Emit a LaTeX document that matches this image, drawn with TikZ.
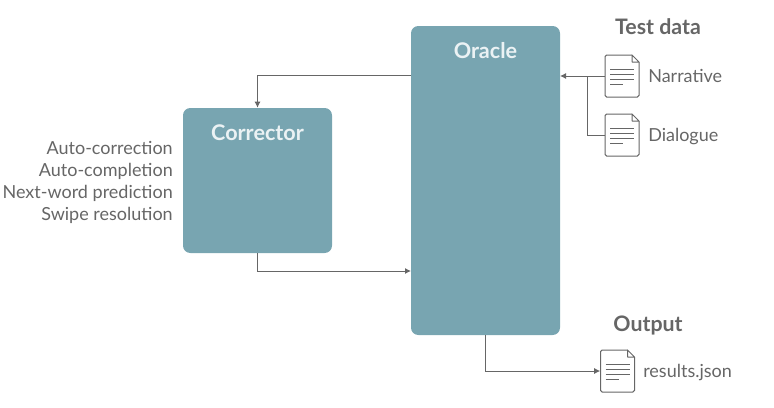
\documentclass[tikz,border=0pt]{standalone}
\usepackage{fontspec}
\setmainfont{Lato}
\usetikzlibrary{arrows.meta}
\definecolor{boxteal}{RGB}{120,165,177}
\definecolor{inkgrey}{RGB}{102,102,102}
\definecolor{titlewhite}{RGB}{235,242,244}
\tikzset{
  block/.style={fill=boxteal,rounded corners=5.5pt,inner sep=0pt},
  blocktitle/.style={text=titlewhite,font=\fontsize{16.2pt}{18pt}\selectfont\bfseries,inner sep=0pt,text height=14pt,text depth=3pt},
  heading/.style={text=inkgrey,font=\fontsize{16pt}{18pt}\selectfont\bfseries,inner sep=0pt,text height=14pt,text depth=3pt},
  caption/.style={text=inkgrey,font=\fontsize{13.5pt}{15pt}\selectfont,inner sep=0pt,text height=12.5pt,text depth=2.5pt},
  docnode/.style={minimum width=25.5pt,minimum height=31.5pt,inner sep=0pt},
  flow/.style={draw=inkgrey,line width=0.75pt,-{Latex[length=4.5pt,width=4.5pt]}},
  plain/.style={draw=inkgrey,line width=0.75pt},
}
% page icon drawn round a named docnode
\newcommand{\docicon}[1]{
  \begin{scope}[shift={(#1.center)},draw=inkgrey,line width=0.75pt]
    \draw [rounded corners=1.2pt] (10,-21) -- (-17,-21) -- (-17,21) -- (17,21) -- (17,-14);
    \draw [line join=round] (10,-21) -- (17,-14) -- (10,-14) -- cycle;
    \draw (-12,-6.7) -- (12,-6.7);
    \draw (-12,-1.7) -- (12,-1.7);
    \draw (-12,3.3) -- (12,3.3);
    \draw (-12,8.3) -- (1,8.3);
  \end{scope}
}
\begin{document}
\begin{tikzpicture}[x=0.75pt,y=0.75pt,yscale=-1,xscale=1]
\useasboundingbox (0,0) rectangle (774,407);

% Blocks
\node [block,minimum width=111.75pt,minimum height=231.75pt] (oracle) at (485.5,180.5) {};
\node [block,minimum width=111.75pt,minimum height=108.75pt] (corrector) at (257.5,180.5) {};
\node [blocktitle] (oracletitle) at (485.5,51) {Oracle};
\node [blocktitle] (correctortitle) at (257.5,133) {Corrector};

% Documents
\node [docnode] (narrative) at (622,76) {};
\node [docnode] (dialogue) at (622,135) {};
\node [docnode] (results) at (617.5,371) {};
\docicon{narrative}
\docicon{dialogue}
\docicon{results}

% Text nodes
\node [heading] (testdata) at (658,27) {Test data};
\node [heading] (output) at (648,324) {Output};
\node [caption,anchor=west] (narrativelabel) at (648,76) {Narrative};
\node [caption,anchor=west] (dialoguelabel) at (648,135) {Dialogue};
\node [caption,anchor=west] (resultslabel) at (643,371) {results.json};
\node [caption,anchor=east] (autocorrection) at (173,148) {Auto-correction};
\node [caption,anchor=east] (autocompletion) at (173,170) {Auto-completion};
\node [caption,anchor=east] (nextword) at (173,192) {Next-word prediction};
\node [caption,anchor=east] (swipe) at (173,214) {Swipe resolution};

% Connectors
\coordinate (oracleout) at (411,75);
\coordinate (oraclein) at (411,271);
\coordinate (oraclebottom) at (485.5,335);
\coordinate (oracleright) at (560,76);
\coordinate (junction) at (587,76);
\draw [flow] (narrative.west) -- (oracleright);
\draw [plain] (dialogue.west) -| (junction);
\draw [flow] (oracleout) -| (corrector.north);
\draw [flow] (corrector.south) |- (oraclein);
\draw [flow] (oraclebottom) |- (results.west);
\end{tikzpicture}
\end{document}
